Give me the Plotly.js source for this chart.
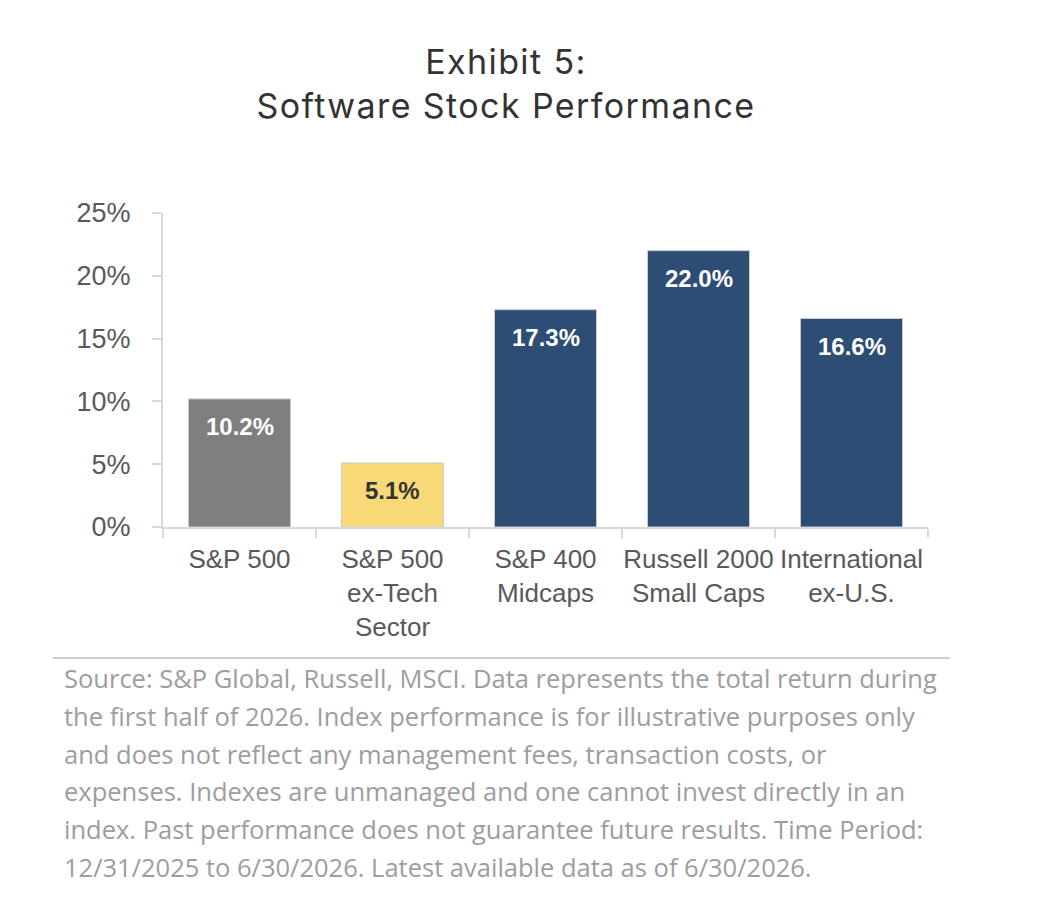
<!DOCTYPE html>
<html>
<head>
<meta charset="utf-8">
<script src="https://cdn.plot.ly/plotly-3.0.1.min.js"></script>
<style>
html,body{margin:0;padding:0;background:#fff;}
#chart{width:1050px;height:920px;}
#chart .gtitle{letter-spacing:1.4px;}
</style>
</head>
<body>
<div id="chart"></div>
<script>
const categories = ["S&P 500", "S&P 500<br>ex-Tech<br>Sector", "S&P 400<br>Midcaps", "Russell 2000<br>Small Caps", "International<br>ex-U.S."];
const values = [10.2, 5.1, 17.3, 22.0, 16.6];
const barColors = ["#7f7f7f", "#f8d977", "#2d4d74", "#2d4d74", "#2d4d74"];
const labelColors = ["#ffffff", "#333333", "#ffffff", "#ffffff", "#ffffff"];
const yTicks = [0, 5, 10, 15, 20, 25];
const titleText = "Exhibit 5:<br>Software Stock Performance";
const sourceLines = [
  "Source: S&P Global, Russell, MSCI. Data represents the total return during",
  "the first half of 2026. Index performance is for illustrative purposes only",
  "and does not reflect any management fees, transaction costs, or",
  "expenses. Indexes are unmanaged and one cannot invest directly in an",
  "index. Past performance does not guarantee future results. Time Period:",
  "12/31/2025 to 6/30/2026. Latest available data as of 6/30/2026."
];

const W = 1050, H = 920;
const trace = {
  type: "bar",
  x: categories,
  y: values,
  marker: {color: barColors, line: {color: "#c8ccd4", width: 1}},
  hoverinfo: "skip",
  showlegend: false
};

const annotations = [];
categories.forEach((c, i) => {
  annotations.push({
    x: c, y: values[i], xref: "x", yref: "y",
    text: "<b>" + values[i].toFixed(1) + "%</b>",
    showarrow: false, yanchor: "top", yshift: -12,
    font: {family: "Liberation Sans, Arial, sans-serif", size: 24, color: labelColors[i]}
  });
});
sourceLines.forEach((t, i) => {
  const yPix = 678 + i * 37.8;
  annotations.push({
    xref: "paper", yref: "paper", x: (62 - 163) / 765, y: (527 - yPix) / 314,
    text: t, showarrow: false, xanchor: "left", yanchor: "middle",
    font: {family: "Open Sans, sans-serif", size: 25.5, color: "#9d9d9d"}
  });
});

const layout = {
  width: W, height: H,
  margin: {l: 163, r: W - 928, t: 213, b: H - 527, pad: 0},
  paper_bgcolor: "#ffffff", plot_bgcolor: "#ffffff",
  bargap: 0.333,
  title: {
    text: titleText, x: 506 / W, xref: "container", xanchor: "center",
    y: 1 - 74 / H, yref: "container", yanchor: "middle",
    font: {family: "Inter, Liberation Sans, sans-serif", size: 34, color: "#333333"}
  },
  font: {family: "Liberation Sans, Arial, sans-serif", color: "#595959"},
  xaxis: {
    type: "category", tickson: "boundaries", ticks: "outside", ticklen: 9,
    tickcolor: "#d9d9d9", tickwidth: 2, showline: true, linecolor: "#d9d9d9", linewidth: 2,
    showgrid: false, zeroline: false, fixedrange: true, ticklabelstandoff: 8, tickangle: 0,
    tickfont: {family: "Liberation Sans, Arial, sans-serif", size: 26, color: "#595959"}
  },
  yaxis: {
    range: [0, 25], tickvals: yTicks, ticktext: yTicks.map(v => v + "%"),
    ticks: "outside", ticklen: 9, tickcolor: "#d9d9d9", tickwidth: 2,
    showline: true, linecolor: "#d9d9d9", linewidth: 2, showgrid: false, zeroline: false,
    ticklabelstandoff: 16, fixedrange: true,
    tickfont: {family: "Liberation Sans, Arial, sans-serif", size: 27, color: "#595959"}
  },
  shapes: [{
    type: "line", xref: "paper", yref: "paper",
    x0: (53 - 163) / 765, x1: (950 - 163) / 765,
    y0: (527 - 658) / 314, y1: (527 - 658) / 314,
    line: {color: "#cfcfcf", width: 2}
  }],
  annotations: annotations
};

Plotly.newPlot("chart", [trace], layout, {displayModeBar: false, staticPlot: true});
</script>
</body>
</html>
